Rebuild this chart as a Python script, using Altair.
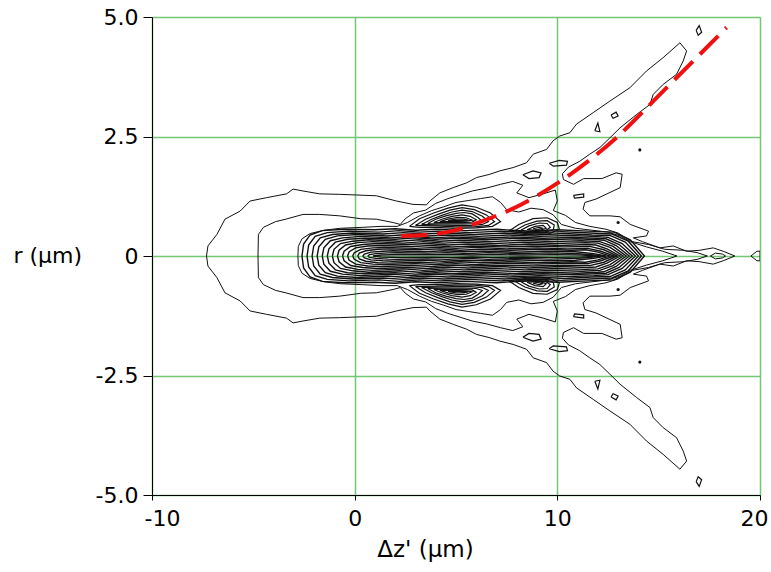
import altair as alt
import pandas as pd

# ---------------------------------------------------------------
# Contour lines of the intensity map, upper half (r >= 0).
# The field is symmetric in r, so each path is mirrored to r < 0.
# ---------------------------------------------------------------

# outermost level: envelope of the on-axis core, the two side jets and the axial tail
OUTER = [(-7.31, 0.0), (-7.24, 0.21), (-6.8, 0.45), (-6.4, 0.77), (-5.65, 0.94), (-5.16, 1.15),
         (-4.35, 1.22), (-3.36, 1.30), (-3.04, 1.40), (-2.55, 1.36), (-1.72, 1.30), (-0.74, 1.29),
         (1.07, 1.26), (2.06, 1.15), (2.88, 1.08), (3.54, 1.07), (3.71, 1.15), (4.2, 1.32),
         (4.86, 1.43), (5.52, 1.53), (6.01, 1.64), (6.67, 1.71), (7.16, 1.78), (7.82, 1.85),
         (8.48, 1.95), (8.81, 2.13), (9.47, 2.23), (9.79, 2.41), (10.12, 2.51), (10.62, 2.58),
         (10.95, 2.76), (11.77, 3.0), (12.59, 3.24), (13.58, 3.52), (14.4, 3.87), (15.22, 4.15),
         (16.05, 4.46), (16.38, 4.29), (16.21, 4.08), (15.88, 3.8), (15.22, 3.59), (14.73, 3.38),
         (14.57, 3.17), (13.91, 2.96), (13.09, 2.68), (12.59, 2.47), (12.1, 2.27), (11.6, 2.13),
         (11.1, 1.98), (10.55, 1.86), (10.25, 1.72), (10.3, 1.6), (10.8, 1.5), (11.3, 1.62),
         (12.2, 1.62), (12.9, 1.74), (13.2, 1.71), (13.1, 1.43), (12.4, 1.29), (11.9, 1.19),
         (11.36, 1.12), (11.27, 0.98), (11.6, 0.84), (12.6, 0.84), (13.1, 0.82), (13.6, 0.66),
         (14.5, 0.52), (14.4, 0.42), (13.75, 0.38), (14.2, 0.3), (15.06, 0.17), (15.72, 0.21),
         (16.38, 0.1), (17.03, 0.12), (17.69, 0.17), (18.18, 0.1), (18.76, 0.0)]

LEVEL_2 = [(-4.77, 0.0), (-4.75, 0.45), (-4.5, 0.6), (-3.9, 0.72), (-3.4, 0.77), (-2.55, 0.87),
           (-1.72, 0.87), (-0.74, 0.84), (0.3, 0.78), (1.07, 0.77), (1.9, 0.7), (2.25, 0.66),
           (2.5, 0.78), (2.9, 0.9), (3.5, 0.96), (4.0, 1.1), (4.6, 1.2), (5.2, 1.28), (5.8, 1.36),
           (6.5, 1.42), (7.2, 1.5), (7.8, 1.56), (8.3, 1.48), (8.0, 1.32), (8.6, 1.22), (9.3, 1.3),
           (9.9, 1.38), (10.0, 1.15), (9.8, 0.95), (10.4, 0.85), (10.9, 0.7), (11.6, 0.62),
           (12.4, 0.56), (13.0, 0.48), (13.3, 0.4), (13.7, 0.3), (14.5, 0.24), (15.3, 0.14),
           (16.2, 0.12), (16.9, 0.07), (17.4, 0.0)]

LEVEL_3 = [(-2.8, 0.0), (-2.78, 0.2), (-2.6, 0.36), (-2.2, 0.47), (-1.5, 0.54), (-0.7, 0.58),
           (0.4, 0.6), (1.3, 0.62), (2.1, 0.62), (2.6, 0.7), (3.2, 0.84), (3.8, 0.95), (4.4, 1.03),
           (5.0, 1.12), (5.6, 1.16), (6.2, 1.2), (6.8, 1.24), (7.2, 1.12), (7.5, 0.97), (8.1, 0.92),
           (8.7, 1.0), (9.3, 0.97), (9.8, 0.86), (10.2, 0.66), (10.9, 0.58), (11.7, 0.54),
           (12.5, 0.5), (13.1, 0.42), (13.6, 0.3), (14.4, 0.19), (15.2, 0.1), (15.9, 0.0)]

# densely packed levels of the on-axis core, outermost first
CORE = [
    [(-2.6, 0.0), (-2.52, 0.25), (-2.2, 0.44), (-1.6, 0.53), (-0.5, 0.56), (1.0, 0.55), (2.0, 0.57), (3.0, 0.54), (4.0, 0.56), (5.5, 0.53), (7.0, 0.56), (8.5, 0.52), (10.0, 0.55), (11.5, 0.52), (12.8, 0.5), (13.6, 0.34), (14.3, 0.0)],
    [(-2.35, 0.0), (-2.27, 0.23), (-1.95, 0.41), (-1.35, 0.49), (-0.3, 0.52), (1.2, 0.5), (2.2, 0.53), (3.2, 0.5), (4.2, 0.52), (5.7, 0.49), (7.2, 0.52), (8.7, 0.48), (10.2, 0.51), (11.6, 0.48), (12.7, 0.46), (13.5, 0.31), (14.15, 0.0)],
    [(-2.1, 0.0), (-2.02, 0.21), (-1.7, 0.38), (-1.1, 0.45), (-0.1, 0.48), (1.4, 0.46), (2.4, 0.49), (3.4, 0.46), (4.4, 0.48), (5.9, 0.45), (7.4, 0.48), (8.9, 0.44), (10.4, 0.47), (11.7, 0.44), (12.6, 0.43), (13.35, 0.29), (14.0, 0.0)],
    [(-1.85, 0.0), (-1.77, 0.19), (-1.45, 0.35), (-0.85, 0.42), (0.1, 0.45), (1.6, 0.42), (2.6, 0.45), (3.6, 0.42), (4.6, 0.44), (6.1, 0.41), (7.6, 0.44), (9.1, 0.41), (10.6, 0.43), (11.8, 0.41), (12.5, 0.39), (13.2, 0.26), (13.85, 0.0)],
    [(-1.6, 0.0), (-1.52, 0.17), (-1.2, 0.32), (-0.6, 0.38), (0.3, 0.41), (1.8, 0.38), (2.8, 0.41), (3.8, 0.38), (4.8, 0.4), (6.3, 0.37), (7.8, 0.4), (9.3, 0.37), (10.8, 0.39), (11.9, 0.37), (12.4, 0.36), (13.05, 0.24), (13.7, 0.0)],
    [(-1.35, 0.0), (-1.27, 0.15), (-0.95, 0.29), (-0.35, 0.35), (0.5, 0.37), (2.0, 0.35), (3.0, 0.38), (4.0, 0.35), (5.0, 0.37), (6.5, 0.34), (8.0, 0.37), (9.5, 0.34), (11.0, 0.36), (12.0, 0.34), (12.3, 0.33), (12.9, 0.22), (13.55, 0.0)],
    [(-1.1, 0.0), (-1.02, 0.14), (-0.7, 0.26), (-0.1, 0.31), (0.7, 0.34), (2.2, 0.31), (3.2, 0.34), (4.2, 0.31), (5.2, 0.33), (6.7, 0.3), (8.2, 0.33), (9.7, 0.3), (11.2, 0.32), (12.1, 0.3), (12.75, 0.2), (13.4, 0.0)],
    [(-0.85, 0.0), (-0.77, 0.12), (-0.45, 0.23), (0.15, 0.28), (0.9, 0.3), (2.4, 0.27), (3.4, 0.3), (4.4, 0.27), (5.4, 0.29), (6.9, 0.26), (8.4, 0.29), (9.9, 0.26), (11.4, 0.28), (12.0, 0.27), (12.6, 0.18), (13.25, 0.0)],
    [(-0.6, 0.0), (-0.52, 0.1), (-0.2, 0.2), (0.4, 0.24), (1.1, 0.26), (2.6, 0.24), (3.6, 0.26), (4.6, 0.23), (5.6, 0.25), (7.1, 0.22), (8.6, 0.25), (10.1, 0.22), (11.5, 0.24), (11.9, 0.23), (12.45, 0.15), (13.1, 0.0)],
    [(-0.35, 0.0), (-0.27, 0.09), (0.05, 0.17), (0.65, 0.21), (1.3, 0.22), (2.8, 0.2), (3.8, 0.22), (4.8, 0.19), (5.8, 0.21), (7.3, 0.19), (8.8, 0.21), (10.3, 0.19), (11.6, 0.2), (12.3, 0.13), (12.95, 0.0)],
    [(-0.1, 0.0), (-0.02, 0.07), (0.3, 0.14), (0.9, 0.17), (1.5, 0.18), (3.0, 0.16), (4.0, 0.18), (5.0, 0.16), (6.0, 0.18), (7.5, 0.15), (9.0, 0.17), (10.5, 0.15), (11.5, 0.16), (12.15, 0.1), (12.8, 0.0)],
    [(0.15, 0.0), (0.23, 0.06), (0.55, 0.11), (1.15, 0.14), (1.7, 0.15), (3.2, 0.13), (4.2, 0.15), (5.2, 0.12), (6.2, 0.14), (7.7, 0.12), (9.2, 0.14), (10.7, 0.12), (11.4, 0.13), (12.0, 0.08), (12.6, 0.0)],
    [(0.4, 0.0), (0.48, 0.04), (0.8, 0.08), (1.4, 0.1), (1.9, 0.11), (3.4, 0.09), (4.4, 0.11), (5.4, 0.09), (6.4, 0.1), (7.9, 0.08), (9.4, 0.1), (10.9, 0.09), (11.8, 0.05), (12.4, 0.0)],
    [(0.65, 0.0), (0.73, 0.03), (1.05, 0.05), (1.65, 0.065), (2.1, 0.07), (3.6, 0.06), (4.6, 0.07), (5.6, 0.05), (6.6, 0.07), (8.1, 0.05), (9.6, 0.065), (11.0, 0.05), (11.6, 0.03), (12.2, 0.0)],
    [(0.9, 0.0), (1.3, 0.02), (2.3, 0.03), (3.8, 0.025), (4.8, 0.03), (5.8, 0.02), (6.8, 0.03), (8.3, 0.02), (9.8, 0.028), (11.2, 0.02), (11.9, 0.0)],
]

# small closed contours that touch the axis
AXIAL_ISLANDS = [
    [(17.55, 0.0), (17.8, 0.06), (18.15, 0.04), (18.3, 0.0)],
    [(19.55, 0.0), (19.85, 0.1), (20.0, 0.1)],
]

# off-axis closed contours (nested blobs beside the core and islands in the jets)
ISLANDS = [
    # blob around z' = 3..7
    [(2.7, 0.62), (3.2, 0.78), (3.9, 0.9), (4.6, 1.0), (5.3, 1.07), (6.0, 1.02), (6.7, 0.9), (7.2, 0.72), (6.8, 0.62), (6.0, 0.59), (5.0, 0.58), (4.0, 0.6), (3.2, 0.6), (2.7, 0.62)],
    [(3.0, 0.64), (3.5, 0.77), (4.1, 0.87), (4.7, 0.96), (5.3, 1.01), (5.9, 0.97), (6.5, 0.86), (6.9, 0.72), (6.6, 0.64), (5.9, 0.61), (5.0, 0.61), (4.0, 0.63), (3.0, 0.64)],
    [(3.3, 0.66), (3.8, 0.77), (4.3, 0.85), (4.8, 0.92), (5.3, 0.96), (5.8, 0.93), (6.3, 0.83), (6.6, 0.72), (6.3, 0.66), (5.7, 0.64), (4.9, 0.64), (4.0, 0.65), (3.3, 0.66)],
    [(3.6, 0.68), (4.0, 0.77), (4.5, 0.84), (5.0, 0.89), (5.4, 0.91), (5.8, 0.88), (6.1, 0.8), (6.3, 0.72), (6.0, 0.68), (5.4, 0.67), (4.6, 0.67), (3.6, 0.68)],
    [(3.9, 0.7), (4.3, 0.77), (4.8, 0.83), (5.3, 0.86), (5.7, 0.83), (6.0, 0.76), (5.8, 0.71), (5.2, 0.7), (4.5, 0.7), (3.9, 0.7)],
    [(4.2, 0.72), (4.6, 0.77), (5.1, 0.81), (5.5, 0.8), (5.8, 0.75), (5.5, 0.73), (4.8, 0.72), (4.2, 0.72)],
    [(4.6, 0.74), (5.0, 0.77), (5.4, 0.77), (5.6, 0.75), (5.2, 0.74), (4.6, 0.74)],
    # blob around z' = 8..10
    [(7.6, 0.52), (8.1, 0.66), (8.8, 0.78), (9.5, 0.8), (10.0, 0.7), (10.1, 0.56), (9.6, 0.47), (8.6, 0.46), (7.6, 0.52)],
    [(7.9, 0.53), (8.4, 0.65), (9.0, 0.73), (9.5, 0.74), (9.85, 0.65), (9.8, 0.55), (9.3, 0.49), (8.5, 0.49), (7.9, 0.53)],
    [(8.2, 0.54), (8.6, 0.63), (9.1, 0.69), (9.5, 0.68), (9.65, 0.6), (9.4, 0.52), (8.6, 0.51), (8.2, 0.54)],
    [(8.5, 0.55), (8.9, 0.62), (9.3, 0.64), (9.45, 0.58), (9.1, 0.53), (8.5, 0.55)],
    [(8.8, 0.57), (9.1, 0.6), (9.3, 0.58), (9.0, 0.55), (8.8, 0.57)],
    # small islands inside the jet
    [(8.3, 1.7), (8.8, 1.78), (9.2, 1.74), (9.1, 1.64), (8.6, 1.62), (8.3, 1.7)],
    [(9.6, 1.94), (10.1, 2.0), (10.5, 1.98), (10.45, 1.9), (9.8, 1.88), (9.6, 1.94)],
    [(10.8, 1.27), (11.3, 1.3), (11.3, 1.23), (10.85, 1.21), (10.8, 1.27)],
    [(11.85, 2.62), (12.0, 2.78), (12.1, 2.6), (11.85, 2.62)],
    [(12.65, 2.95), (12.9, 3.01), (13.0, 2.93), (12.75, 2.88), (12.65, 2.95)],
    [(16.85, 4.72), (17.0, 4.82), (17.12, 4.68), (16.95, 4.62), (16.85, 4.72)],
]

# isolated single-cell maxima
DOT_Z = [14.07, 13.0]
DOT_R = [2.22, 0.7]

# dashed guide curve r(z')
GUIDE_Z = [2.3, 3.5, 4.9, 6.3, 8.0, 10.1, 12.9, 15.2, 18.35]
GUIDE_R = [0.42, 0.44, 0.53, 0.73, 1.03, 1.55, 2.47, 3.44, 4.78]

# axis ticks
Z_TICKS = [-10, 0, 10, 20]
R_TICKS = [-5.0, -2.5, 0.0, 2.5, 5.0]

# ---------------------------------------------------------------
rows = []


def add_path(name, pts, weight):
    for i, (z, r) in enumerate(pts):
        rows.append({"path": name, "i": i, "z": z, "r": r, "w": weight})


def add_axial(name, upper, weight):
    # close a contour that crosses the axis by running back along its mirror image
    add_path(name, list(upper) + [(z, -r) for z, r in reversed(upper)], weight)


add_axial("outer", OUTER, "thin")
add_axial("level2", LEVEL_2, "thin")
add_axial("level3", LEVEL_3, "thin")
for k, pts in enumerate(CORE):
    add_axial(f"core{k}", pts, "core")
for k, pts in enumerate(AXIAL_ISLANDS):
    add_axial(f"axial{k}", pts, "thin")
for k, pts in enumerate(ISLANDS):
    add_path(f"isl{k}u", pts, "blob")
    add_path(f"isl{k}l", [(z, -r) for z, r in pts], "blob")

contours = pd.DataFrame(rows)
dots = pd.DataFrame({"z": DOT_Z + DOT_Z, "r": DOT_R + [-v for v in DOT_R]})
guide = pd.DataFrame({"z": GUIDE_Z, "r": GUIDE_R})

FONT = "DejaVu Sans"
GRID = "#74c874"

x_enc = alt.X(
    "z:Q",
    scale=alt.Scale(domain=[-10, 20], nice=False, zero=False),
    axis=alt.Axis(
        values=Z_TICKS,
        labelExpr="datum.value < 0 ? '-' + abs(datum.value) : '' + datum.value",
        title="\u0394z' (\u03bcm)",
        grid=True, gridColor=GRID, gridWidth=1.5,
        domainColor="black", tickColor="black", tickSize=5,
        labelFontSize=22, labelPadding=8, labelColor="black", labelFont=FONT,
        labelFlush=True, labelFlushOffset=8,
        titleFontSize=23, titleFont=FONT, titleFontWeight="normal", titleColor="black",
        titleX=273, titleY=54, titleAlign="center", titleBaseline="middle",
    ),
)
y_enc = alt.Y(
    "r:Q",
    scale=alt.Scale(domain=[-5, 5], nice=False, zero=False),
    axis=alt.Axis(
        values=R_TICKS,
        labelExpr="datum.value == 0 ? '0' : (datum.value < 0 ? '-' : '') + format(abs(datum.value), '.1f')",
        title="r (\u03bcm)", grid=True, gridColor=GRID, gridWidth=1.5,
        domainColor="black", tickColor="black", tickSize=9,
        labelFontSize=22, labelPadding=5, labelColor="black", labelFont=FONT,
        labelFlush=False,
        titleFontSize=22, titleFont=FONT, titleFontWeight="normal", titleColor="black",
        titleAngle=0, titleX=-139, titleY=238, titleAlign="left", titleBaseline="middle",
    ),
)

lines = alt.Chart(contours).mark_line(color="#111111", clip=True).encode(
    x=x_enc,
    y=y_enc,
    detail="path:N",
    order="i:Q",
    strokeWidth=alt.StrokeWidth(
        "w:N", scale=alt.Scale(domain=["thin", "blob", "core"], range=[1.0, 1.4, 1.6]), legend=None
    ),
)

spots = alt.Chart(dots).mark_point(filled=True, color="#111111", size=10, opacity=1).encode(
    x="z:Q", y="r:Q"
)

curve = alt.Chart(guide).mark_line(
    color="#f01010", strokeWidth=4, strokeDash=[26, 10], interpolate="monotone", clip=True
).encode(x="z:Q", y="r:Q")

chart = (
    alt.layer(lines, spots, curve)
    .properties(
        width=608, height=478, autosize="none",
        padding={"left": 152, "top": 17, "right": 11, "bottom": 77},
    )
    .configure_view(stroke="black", strokeWidth=1)
    .configure(background="white")
)

chart.save("out.html", embed_options={"renderer": "svg", "actions": False})
